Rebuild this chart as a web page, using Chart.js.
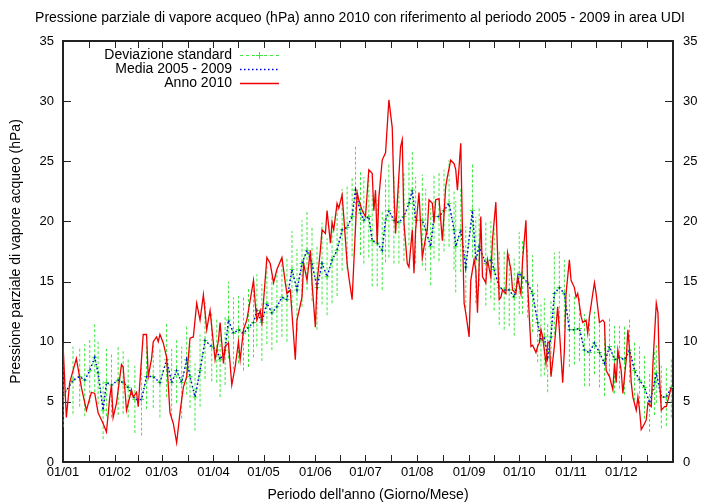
<!DOCTYPE html>
<html>
<head>
<meta charset="utf-8">
<script src="https://cdn.jsdelivr.net/npm/chart.js@4.4.0/dist/chart.umd.min.js"></script>
<style>
  body { margin: 0; background: #fff; }
</style>
</head>
<body>
<canvas id="grafico" width="720" height="504"></canvas>
<script>
// asse x: giorno dell'anno (0 = 1 gennaio)
const etichetteMesi = ['01/01','01/02','01/03','01/04','01/05','01/06','01/07','01/08','01/09','01/10','01/11','01/12']
const inizioMese = [0,31,59,90,120,151,181,212,243,273,304,334]
const fineAnno = 365

// Anno 2010 (hPa)
const giorni2010 = [0,2,4,6,8,11,14,17,19,21,24,26,28,29,30,32,35,36,38,41,42,44,45,48,50,51,53,54,56,57,58,60,62,64,66,68,70,72,74,76,78,80,82,84,86,88,91,93,94,96,97,99,101,103,105,106,108,110,114,115,116,118,119,122,124,126,128,131,133,134,136,139,140,143,144,146,148,149,151,152,154,155,157,158,160,161,162,164,165,167,168,170,171,173,174,176,177,179,181,183,185,186,187,188,189,191,193,195,197,198,199,200,202,203,204,206,207,209,210,211,213,215,217,218,219,221,222,223,225,227,229,230,232,234,235,236,238,239,240,241,243,244,246,247,248,250,251,253,254,256,257,259,260,261,262,263,265,266,268,269,271,272,274,275,277,278,279,280,281,283,284,285,286,287,289,290,291,292,294,296,297,299,300,301,303,304,306,307,308,310,311,313,314,315,317,318,319,321,323,324,325,327,329,330,331,332,334,335,337,338,339,340,341,343,344,345,346,348,349,350,352,353,355,356,357,358,360,361,363,364]
const anno2010 = [9.9,3.7,6.6,7.6,8.6,6.2,4.3,5.8,5.7,4.1,3.2,2.5,5.4,6.4,3.7,4.9,8.1,7.9,4.3,6.0,5.4,5.8,4.6,10.6,10.6,7.1,8.6,10.0,10.4,10.0,10.6,9.9,8.7,4.1,3.2,1.6,4.1,6.2,7.1,10.3,10.4,13.2,11.8,13.9,11.0,12.6,8.5,10.1,11.6,8.2,9.6,9.9,6.4,7.9,10.0,8.5,11.0,11.8,15.1,13.2,11.8,12.6,11.6,17.0,16.5,14.9,16.0,17.0,14.9,14.0,14.3,8.5,11.8,13.7,16.5,15.1,17.6,14.9,11.2,14.9,17.6,19.3,19.0,20.9,18.2,19.9,19.3,21.5,21.1,22.2,20.4,16.5,15.4,13.5,16.5,22.4,21.8,20.9,20.4,24.3,24.0,20.9,22.6,18.2,22.0,25.1,25.7,30.1,27.8,22.6,19.0,21.5,26.2,26.8,19.9,16.5,16.2,19.3,15.7,19.3,22.4,17.0,18.7,19.3,21.8,21.5,19.9,21.8,21.9,18.4,22.9,23.7,25.1,24.8,24.3,22.6,26.5,19.3,13.2,12.4,10.4,15.1,16.8,16.0,12.4,20.4,15.4,14.9,16.8,15.4,18.5,21.6,17.5,13.5,13.7,14.3,14.0,17.4,16.0,14.3,14.0,15.4,14.0,16.8,20.1,14.9,12.1,9.6,9.7,9.1,9.6,9.9,11.0,10.4,8.2,9.9,10.0,7.1,9.6,12.9,11.0,6.6,9.3,14.0,16.8,15.1,14.5,13.7,14.0,12.1,11.6,11.8,10.7,12.1,14.0,14.9,14.0,11.6,11.8,11.6,7.6,7.1,6.0,8.2,6.6,9.3,7.6,5.7,8.5,11.0,9.3,6.6,5.4,4.3,5.4,4.3,2.7,3.2,3.5,4.9,4.6,8.2,13.2,12.4,6.8,4.3,4.6,4.6,5.7,6.2]

// Media 2005 - 2009 e deviazione standard (hPa)
const giorniMedia = [0,6,10,13,16,19,21,24,26,29,33,36,39,43,47,50,54,58,62,65,68,71,74,76,79,82,85,89,92,94,97,99,102,105,108,111,114,116,119,122,125,128,131,134,137,140,143,146,149,152,155,158,161,164,167,170,173,175,178,180,183,185,188,191,193,195,198,201,204,207,209,211,215,217,220,222,225,228,231,234,235,238,241,245,247,249,253,256,258,261,264,267,270,273,275,278,281,284,286,288,290,292,294,297,300,303,306,309,312,315,318,321,324,327,330,333,336,339,342,345,348,351,354,355,358,361,364]
const media = [5.5,6.8,7.1,6.8,7.6,8.7,7.4,4.3,6.6,6.4,6.8,6.6,6.2,5.2,5.2,7.1,7.1,6.6,8.5,6.6,7.6,6.6,8.5,7.1,5.4,7.6,10.1,9.6,9.3,8.5,9.3,11.8,10.7,11.0,10.7,11.2,11.6,12.6,11.6,13.2,12.4,12.9,13.7,13.5,16.0,14.3,16.5,17.6,16.5,14.5,16.5,15.4,16.8,17.6,19.3,19.5,20.4,22.6,20.7,20.1,20.4,18.4,18.2,17.6,20.1,20.9,20.1,19.9,20.4,21.5,22.6,20.1,20.1,19.3,17.9,20.4,20.4,20.9,21.5,19.3,17.9,19.3,16.2,20.9,16.8,17.9,16.5,16.8,16.0,14.5,14.3,14.3,13.7,15.7,15.4,14.9,14.0,11.6,10.1,10.4,8.7,10.4,14.0,14.5,14.0,11.0,11.0,11.1,9.3,9.1,9.9,9.1,8.2,9.6,8.5,8.7,8.5,9.3,7.6,6.8,6.2,4.9,6.6,7.4,5.4,5.4,6.2]
const devStd = [2.6,2.8,2.5,3.0,2.7,2.9,2.6,2.4,2.8,2.7,
  2.9,2.6,2.5,2.8,3.0,2.7,2.6,2.9,3.1,2.8,
  2.7,3.0,2.9,2.6,2.8,3.0,3.2,2.9,2.7,3.1,
  2.9,3.2,3.0,2.8,3.1,3.3,2.9,3.0,3.2,3.4,
  3.1,3.0,3.3,3.5,3.2,3.4,3.6,3.3,3.1,3.5,
  3.4,3.2,3.6,3.8,3.4,3.5,3.3,3.7,3.5,3.6,
  3.4,3.8,3.6,3.3,3.5,3.9,3.6,3.4,3.7,3.5,
  3.3,3.6,3.8,3.4,3.2,3.5,3.7,3.4,3.6,3.3,
  3.8,3.5,3.4,3.9,3.6,3.3,3.5,3.2,3.4,3.1,
  3.3,3.0,3.2,3.4,3.1,2.9,3.2,3.3,3.0,3.2,
  2.9,3.1,3.4,3.0,2.8,3.1,2.9,2.7,3.0,2.8,
  2.6,2.9,2.7,2.5,2.8,2.6,2.9,2.7,2.5,2.8,
  2.6,2.4,2.7,2.5,2.6,2.4,2.5]

const font = "'Liberation Sans', Arial, sans-serif"

// tacche: inizio mese + meta mese
const tickX = []
inizioMese.forEach((g, i) => {
  const prossimo = i < inizioMese.length - 1 ? inizioMese[i + 1] : fineAnno
  tickX.push(g, (g + prossimo) / 2)
})
tickX.push(fineAnno)

const puntiRossi = giorni2010.map((g, i) => ({x: g, y: anno2010[i]}))
const puntiMedia = giorniMedia.map((g, i) => ({x: g, y: media[i]}))
const barreErrore = []
giorniMedia.forEach((g, i) => {
  barreErrore.push({x: g, y: media[i] - devStd[i]})
  barreErrore.push({x: g, y: media[i] + devStd[i]})
  barreErrore.push({x: g, y: null})
})

// cornice e tacche verso l'interno, come gnuplot
const cornice = {
  id: 'cornice',
  beforeDatasetsDraw(chart) {
    const {ctx, chartArea: a, scales} = chart
    ctx.save()
    ctx.strokeStyle = '#222'
    ctx.lineWidth = 1
    ctx.beginPath()
    scales.x.ticks.forEach(t => {
      const px = Math.round(scales.x.getPixelForValue(t.value)) + 0.5
      ctx.moveTo(px, a.bottom); ctx.lineTo(px, a.bottom - 7)
      ctx.moveTo(px, a.top); ctx.lineTo(px, a.top + 7)
    })
    scales.y.ticks.forEach(t => {
      const py = Math.round(scales.y.getPixelForValue(t.value)) + 0.5
      ctx.moveTo(a.left, py); ctx.lineTo(a.left + 8, py)
      ctx.moveTo(a.right, py); ctx.lineTo(a.right - 8, py)
    })
    ctx.stroke()
    ctx.lineWidth = 2
    ctx.strokeRect(a.left, a.top, a.right - a.left, a.bottom - a.top)
    ctx.restore()
  }
}

// legenda in alto a sinistra: testo allineato a destra, campione di linea dopo
const legenda = {
  id: 'legenda',
  afterDraw(chart) {
    const ctx = chart.ctx
    const ds = chart.data.datasets
    const voci = [
      {testo: 'Deviazione standard', d: ds[2], croce: true},
      {testo: 'Media 2005 - 2009', d: ds[1]},
      {testo: 'Anno 2010', d: ds[0]},
    ]
    ctx.save()
    ctx.font = '14px ' + font
    ctx.textAlign = 'right'
    ctx.textBaseline = 'middle'
    voci.forEach((v, i) => {
      const y = 55 + i * 14
      ctx.fillStyle = '#000'
      ctx.fillText(v.testo, 232, y)
      ctx.strokeStyle = v.d.borderColor
      ctx.lineWidth = v.d.borderWidth
      ctx.setLineDash(v.d.borderDash || [])
      ctx.beginPath()
      ctx.moveTo(240, y + 0.5); ctx.lineTo(279, y + 0.5)
      ctx.stroke()
      if (v.croce) {
        ctx.setLineDash([])
        ctx.beginPath()
        ctx.moveTo(259.5, y - 3); ctx.lineTo(259.5, y + 4)
        ctx.moveTo(256, y + 0.5); ctx.lineTo(263, y + 0.5)
        ctx.stroke()
      }
    })
    ctx.restore()
  }
}

const verde = 'rgb(60,232,60)'

new Chart(document.getElementById('grafico'), {
  type: 'line',
  data: {
    datasets: [
      {
        label: 'Anno 2010',
        data: puntiRossi,
        borderColor: '#ee0000',
        borderWidth: 1.3,
        pointRadius: 0,
        tension: 0,
        order: 0,
      },
      {
        label: 'Media 2005 - 2009',
        data: puntiMedia,
        borderColor: '#0000dd',
        borderWidth: 1.5,
        borderDash: [1.5, 2.5],
        pointRadius: 0,
        tension: 0,
        order: 1,
      },
      {
        label: 'Deviazione standard',
        data: puntiMedia,
        borderColor: verde,
        borderWidth: 1,
        borderDash: [3, 3],
        pointStyle: 'cross',
        pointRadius: 2.5,
        pointBorderColor: verde,
        pointBorderWidth: 1,
        tension: 0,
        order: 2,
      },
      {
        label: 'barre',
        data: barreErrore,
        borderColor: verde,
        borderWidth: 1,
        borderDash: [3, 2],
        pointRadius: 0,
        spanGaps: false,
        order: 3,
      },
    ],
  },
  options: {
    responsive: false,
    animation: false,
    layout: { padding: 0 },
    plugins: {
      legend: { display: false },
      tooltip: { enabled: false },
      title: {
        display: true,
        text: 'Pressione parziale di vapore acqueo (hPa) anno 2010 con riferimento al periodo 2005 - 2009 in area UDI',
        color: '#000',
        font: { family: font, size: 14, weight: 'normal' },
        padding: { top: 9.6, bottom: 14.6 },
      },
    },
    scales: {
      x: {
        type: 'linear',
        min: 0,
        max: fineAnno,
        afterBuildTicks: scale => { scale.ticks = tickX.map(v => ({value: v})) },
        afterFit: scale => { scale.height = 42 },
        grid: { display: false, drawTicks: false },
        border: { display: false },
        ticks: {
          autoSkip: false,
          maxRotation: 0,
          padding: 3,
          color: '#000',
          font: { family: font, size: 13 },
          callback: v => {
            const i = inizioMese.indexOf(v)
            return i >= 0 ? etichetteMesi[i] : ''
          },
        },
        title: {
          display: true,
          text: "Periodo dell'anno (Giorno/Mese)",
          color: '#000',
          font: { family: font, size: 14 },
          padding: { top: 0, bottom: 0.6 },
        },
      },
      y: {
        position: 'left',
        min: 0,
        max: 35,
        afterFit: scale => { scale.width = 63 },
        grid: { display: false, drawTicks: false },
        border: { display: false },
        ticks: { stepSize: 5, padding: 9, color: '#000', font: { family: font, size: 13 } },
        title: {
          display: true,
          text: 'Pressione parziale di vapore acqueo (hPa)',
          color: '#000',
          font: { family: font, size: 14 },
          padding: { top: 7.6, bottom: 0 },
        },
      },
      y2: {
        position: 'right',
        min: 0,
        max: 35,
        afterFit: scale => { scale.width = 47 },
        grid: { display: false, drawTicks: false },
        border: { display: false },
        ticks: { stepSize: 5, padding: 10, color: '#000', font: { family: font, size: 13 } },
      },
    },
  },
  plugins: [cornice, legenda],
})
</script>
</body>
</html>
